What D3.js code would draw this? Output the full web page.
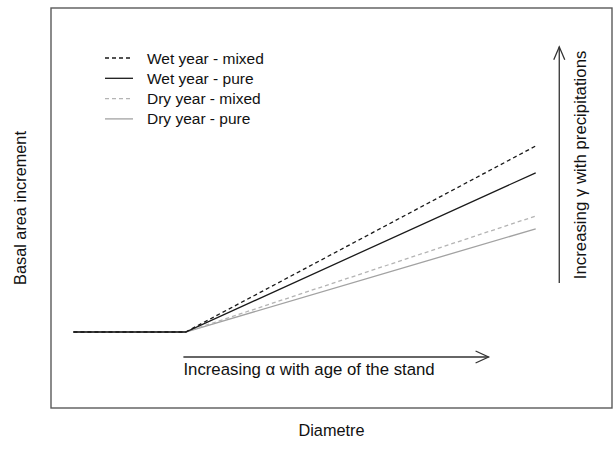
<!DOCTYPE html>
<html>
<head>
<meta charset="utf-8">
<script src="https://cdn.jsdelivr.net/npm/d3@7"></script>
<style>
  html, body { margin: 0; padding: 0; background: #fff; }
  svg { display: block; font-family: "Liberation Sans", Arial, sans-serif; }
</style>
</head>
<body>
<svg id="chart" width="614" height="450"></svg>
<script>
// Conceptual growth model: basal area increment vs. diameter
const diameters = [0, 10, 41.2];           // start, threshold, end of the diameter axis segment
const seriesNames = ["Wet year - mixed", "Wet year - pure", "Dry year - mixed", "Dry year - pure"];
const baseIncrement = 19;                   // flat increment below the threshold
const endIncrement = [65.5, 58.8, 48, 44.8]; // increment reached at the largest diameter
const seriesColors = ["#1a1a1a", "#1a1a1a", "#b4b4b4", "#a2a2a2"];
const seriesDash = ["4,3", null, "4,3", null];

const xLabel = "Diametre";
const yLabel = "Basal area increment";
const ageLabel = "Increasing α with age of the stand";
const rainLabel = "Increasing γ with precipitations";

const svg = d3.select("#chart");
const box = { left: 51, top: 8, right: 612, bottom: 408 };

const x = d3.scaleLinear().domain([-2, 48]).range([box.left, box.right]);
const y = d3.scaleLinear().domain([0, 100]).range([box.bottom, box.top]);

// plot frame
svg.append("rect")
  .attr("x", box.left).attr("y", box.top)
  .attr("width", box.right - box.left).attr("height", box.bottom - box.top)
  .attr("fill", "none").attr("stroke", "#5a5a5a").attr("stroke-width", 1.4);

const line = d3.line().x(d => x(d[0])).y(d => y(d[1]));

// series lines, drawn dry first so the wet lines sit on top
const order = [3, 2, 1, 0];
order.forEach(i => {
  const pts = [[diameters[0], baseIncrement], [diameters[1], baseIncrement], [diameters[2], endIncrement[i]]];
  svg.append("path")
    .attr("d", line(pts))
    .attr("fill", "none")
    .attr("stroke", seriesColors[i])
    .attr("stroke-width", 1.3)
    .attr("stroke-dasharray", seriesDash[i]);
});

// legend
const legX0 = 105, legX1 = 133, legTextX = 147, legY0 = 58, legStep = 20.3;
seriesNames.forEach((name, i) => {
  const ly = legY0 + i * legStep;
  svg.append("line")
    .attr("x1", legX0).attr("x2", legX1).attr("y1", ly).attr("y2", ly)
    .attr("stroke", seriesColors[i]).attr("stroke-width", 1.3)
    .attr("stroke-dasharray", seriesDash[i]);
  svg.append("text")
    .attr("x", legTextX).attr("y", ly + 5.5)
    .attr("font-size", 15.5).attr("fill", "#111")
    .text(name);
});

// arrow helper: open V head at the tip
function arrow(x1, y1, x2, y2, len, half) {
  const g = svg.append("g").attr("stroke", "#333").attr("stroke-width", 1.3).attr("fill", "none");
  g.append("line").attr("x1", x1).attr("y1", y1).attr("x2", x2).attr("y2", y2);
  const a = Math.atan2(y2 - y1, x2 - x1);
  const bx = x2 - len * Math.cos(a), by = y2 - len * Math.sin(a);
  const px = -Math.sin(a) * half, py = Math.cos(a) * half;
  g.append("path").attr("d", `M${bx + px},${by + py}L${x2},${y2}L${bx - px},${by - py}`);
}

// age arrow along the diameter axis
arrow(x(9.8), y(12.75), x(37), y(12.75), 13, 6);
svg.append("text")
  .attr("x", x(9.8)).attr("y", y(12.75) + 18)
  .attr("font-size", 16.8).attr("fill", "#111")
  .text(ageLabel);

// precipitation arrow
const rainX = x(43.3);
arrow(rainX, y(31.25), rainX, y(90.3), 13, 5.5);
svg.append("text")
  .attr("transform", `translate(${rainX + 27},${(y(31.25) + y(90.3)) / 2}) rotate(-90)`)
  .attr("text-anchor", "middle")
  .attr("font-size", 16.8).attr("fill", "#111")
  .text(rainLabel);

// axis titles
svg.append("text")
  .attr("x", (box.left + box.right) / 2).attr("y", 436)
  .attr("text-anchor", "middle")
  .attr("font-size", 16.3).attr("fill", "#111")
  .text(xLabel);
svg.append("text")
  .attr("transform", `translate(26,${(box.top + box.bottom) / 2}) rotate(-90)`)
  .attr("text-anchor", "middle")
  .attr("font-size", 16.3).attr("fill", "#111")
  .text(yLabel);
</script>
</body>
</html>
